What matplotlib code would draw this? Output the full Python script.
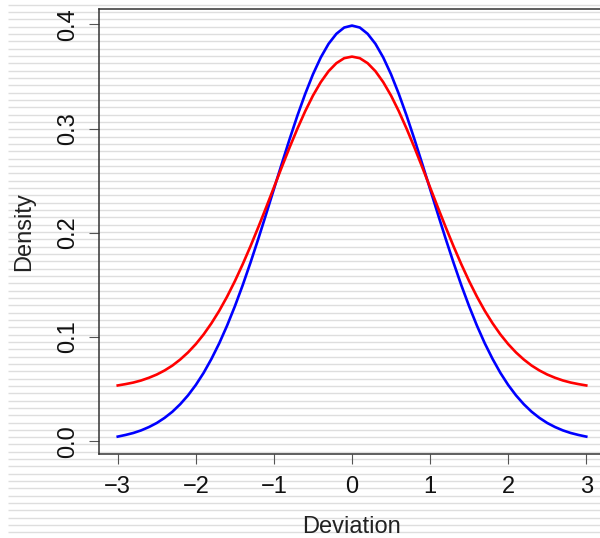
import matplotlib
matplotlib.use("Agg")
import matplotlib.pyplot as plt

plt.rcParams['font.family'] = ['Liberation Sans', 'DejaVu Sans']

# Values
deviation = [-3.0, -2.9, -2.8, -2.7, -2.6, -2.5, -2.4, -2.3, -2.2, -2.1,
             -2.0, -1.9, -1.8, -1.7, -1.6, -1.5, -1.4, -1.3, -1.2, -1.1,
             -1.0, -0.9, -0.8, -0.7, -0.6, -0.5, -0.4, -0.3, -0.2, -0.1,
             0.0, 0.1, 0.2, 0.3, 0.4, 0.5, 0.6, 0.7, 0.8, 0.9,
             1.0, 1.1, 1.2, 1.3, 1.4, 1.5, 1.6, 1.7, 1.8, 1.9,
             2.0, 2.1, 2.2, 2.3, 2.4, 2.5, 2.6, 2.7, 2.8, 2.9, 3.0]
density_blue = [0.0044, 0.0060, 0.0079, 0.0104, 0.0136, 0.0175, 0.0224, 0.0283, 0.0355, 0.0440,
                0.0540, 0.0656, 0.0790, 0.0940, 0.1109, 0.1295, 0.1497, 0.1714, 0.1942, 0.2179,
                0.2420, 0.2661, 0.2897, 0.3123, 0.3332, 0.3521, 0.3683, 0.3814, 0.3910, 0.3970,
                0.3989, 0.3970, 0.3910, 0.3814, 0.3683, 0.3521, 0.3332, 0.3123, 0.2897, 0.2661,
                0.2420, 0.2179, 0.1942, 0.1714, 0.1497, 0.1295, 0.1109, 0.0940, 0.0790, 0.0656,
                0.0540, 0.0440, 0.0355, 0.0283, 0.0224, 0.0175, 0.0136, 0.0104, 0.0079, 0.0060, 0.0044]
density_red = [0.0535, 0.0548, 0.0563, 0.0583, 0.0609, 0.0640, 0.0679, 0.0726, 0.0784, 0.0852,
               0.0932, 0.1025, 0.1132, 0.1252, 0.1387, 0.1536, 0.1698, 0.1871, 0.2054, 0.2243,
               0.2436, 0.2629, 0.2818, 0.2998, 0.3166, 0.3317, 0.3446, 0.3551, 0.3628, 0.3676,
               0.3691, 0.3676, 0.3628, 0.3551, 0.3446, 0.3317, 0.3166, 0.2998, 0.2818, 0.2629,
               0.2436, 0.2243, 0.2054, 0.1871, 0.1698, 0.1536, 0.1387, 0.1252, 0.1132, 0.1025,
               0.0932, 0.0852, 0.0784, 0.0726, 0.0679, 0.0640, 0.0609, 0.0583, 0.0563, 0.0548, 0.0535]
x_ticks = [-3, -2, -1, 0, 1, 2, 3]
x_tick_labels = ['\u22123', '\u22122', '\u22121', '0', '1', '2', '3']
y_ticks = [0.0, 0.1, 0.2, 0.3, 0.4]
y_tick_labels = ['0.0', '0.1', '0.2', '0.3', '0.4']

W, H = 600, 538
fig = plt.figure(figsize=(W / 100, H / 100), dpi=100)
fig.patch.set_facecolor('white')

# striped background
bg = fig.add_axes([0, 0, 1, 1], zorder=0)
bg.set_xlim(0, W)
bg.set_ylim(H, 0)
bg.axis('off')
ys = []
y = 4.7
while y < H:
    ys.append(y)
    y += 7.33
bg.hlines(ys, 8, W, colors='#dedede', linewidth=1.0)

left, right, top, bottom = 99, 605, 9, 453.5
ax = fig.add_axes([left / W, (H - bottom) / H, (right - left) / W, (bottom - top) / H], zorder=1)
ax.patch.set_alpha(0)

ax.plot(deviation, density_blue, color='#0000ff', linewidth=1.9)
ax.plot(deviation, density_red, color='#ff0000', linewidth=1.9)

ax.set_xlim(-3.24, 3.24)
ax.set_ylim(-0.0118, 0.4148)

ax.set_xticks(x_ticks)
ax.set_xticklabels(x_tick_labels)
ax.set_yticks(y_ticks)
ax.set_yticklabels(y_tick_labels, rotation=90, va='center')

for s in ax.spines.values():
    s.set_color('#333333')
    s.set_linewidth(1.1)

ax.tick_params(axis='both', direction='out', length=7, width=0.8, color='#555555',
               labelsize=17, labelcolor='#111111')
ax.tick_params(axis='x', pad=9)
ax.tick_params(axis='y', pad=7.5)

ax.set_xlabel('Deviation', fontsize=17, color='#222222', labelpad=13)
ax.set_ylabel('Density', fontsize=17, color='#222222', labelpad=16)

fig.savefig('out.png', dpi=100)
